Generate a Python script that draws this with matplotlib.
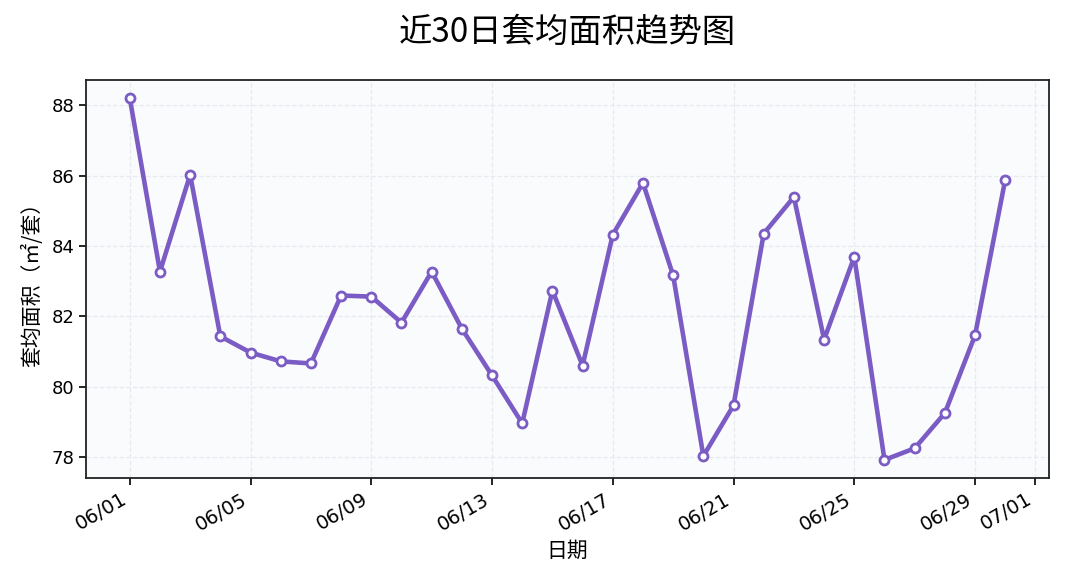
import matplotlib
matplotlib.use("Agg")
import matplotlib.pyplot as plt
import matplotlib.dates as mdates
import pandas as pd

plt.rcParams['font.family'] = ['Noto Sans CJK SC', 'DejaVu Sans']
plt.rcParams['axes.unicode_minus'] = False

dates = pd.date_range("2024-06-01", "2024-06-30", freq="D")
avg_area = [88.20, 83.27, 86.02, 81.43, 80.97, 80.72, 80.66, 82.59, 82.56, 81.82,
            83.27, 81.65, 80.32, 78.96, 82.73, 80.60, 84.32, 85.79, 83.16, 78.03,
            79.47, 84.35, 85.39, 81.34, 83.69, 77.92, 78.25, 79.25, 81.46, 85.88]

title = "近30日套均面积趋势图"
xlabel = "日期"
ylabel = "套均面积（㎡/套）"

fig = plt.figure(figsize=(10.65, 5.88), dpi=100)
ax = fig.add_axes([86/1065, 1 - 478/588, (1049-86)/1065, (478-80)/588])
ax.set_facecolor('#F9FBFD')
ax.plot(dates, avg_area, color='#7B5CC4', linewidth=3.3, marker='o', markersize=6.5,
        markerfacecolor='white', markeredgecolor='#7B5CC4', markeredgewidth=2, zorder=3)
ax.grid(True, linestyle='--', color='#E3E6EC', linewidth=0.9, alpha=0.8)
ax.set_axisbelow(True)
ax.xaxis.set_major_locator(mdates.DayLocator(bymonthday=[1, 5, 9, 13, 17, 21, 25, 29]))
ax.xaxis.set_major_formatter(mdates.DateFormatter('%m/%d'))
for lbl in ax.get_xticklabels() + ax.get_yticklabels():
    lbl.set_fontfamily('DejaVu Sans')
for lbl in ax.get_xticklabels():
    lbl.set_rotation(30)
    lbl.set_ha('right')
ax.tick_params(axis='x', labelsize=14, length=5, width=1.2)
ax.tick_params(axis='y', labelsize=13, length=5, width=1.2)
for s in ax.spines.values():
    s.set_linewidth(1.3)
    s.set_color('#222222')
ax.set_xlabel(xlabel, fontsize=15, labelpad=4)
ax.set_ylabel(ylabel, fontsize=15, labelpad=6)
fig.text(567/1065, 1 - 32/588, title, ha='center', va='center', fontsize=24)
fig.savefig("out.png", dpi=100, facecolor='white')
